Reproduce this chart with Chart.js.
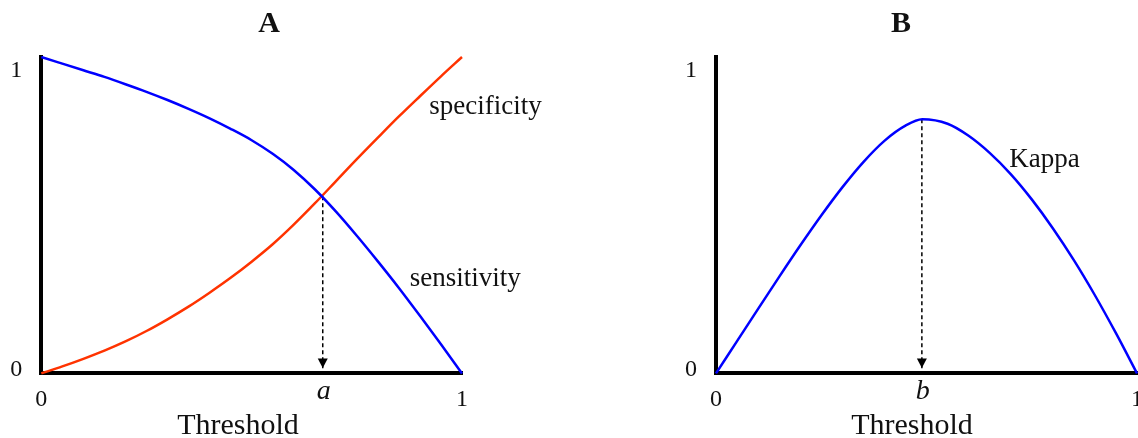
<!DOCTYPE html>
<html>
<head>
<meta charset="utf-8">
<script src="https://cdn.jsdelivr.net/npm/chart.js@4.4.0/dist/chart.umd.min.js"></script>
<style>
  html, body { margin: 0; padding: 0; background: #ffffff; }
  #wrap { position: relative; width: 1138px; height: 438px; overflow: hidden; background: #fff; }
  .box { position: absolute; top: 0; width: 569px; height: 438px; }
  #boxA { left: 0; }
  #boxB { left: 569px; }
</style>
</head>
<body>
<div id="wrap">
  <div class="box" id="boxA"><canvas id="chartA" width="569" height="438"></canvas></div>
  <div class="box" id="boxB"><canvas id="chartB" width="569" height="438"></canvas></div>
</div>
<script>
// ---------------- data ----------------
const thresholdA  = [0, 0.05, 0.1, 0.15, 0.2, 0.25, 0.3, 0.35, 0.4, 0.45, 0.5,
                     0.55, 0.6, 0.65, 0.7, 0.75, 0.8, 0.85, 0.9, 0.95, 1.0];
const sensitivity = [1.0, 0.979, 0.958, 0.937, 0.914, 0.890, 0.864, 0.836, 0.806, 0.773, 0.737,
                     0.694, 0.643, 0.582, 0.512, 0.435, 0.354, 0.270, 0.182, 0.092, 0.0];
const specificity = [0.0, 0.022, 0.046, 0.072, 0.101, 0.134, 0.171, 0.211, 0.255, 0.302, 0.353,
                     0.408, 0.470, 0.537, 0.607, 0.677, 0.745, 0.812, 0.876, 0.939, 1.0];

const thresholdB  = [0, 0.05, 0.1, 0.15, 0.2, 0.25, 0.3, 0.35, 0.4, 0.45, 0.49,
                     0.55, 0.6, 0.65, 0.7, 0.75, 0.8, 0.85, 0.9, 0.95, 1.0];
const kappa       = [0, 0.102, 0.204, 0.305, 0.404, 0.499, 0.588, 0.668, 0.735, 0.783, 0.803,
                     0.789, 0.751, 0.697, 0.630, 0.550, 0.459, 0.358, 0.247, 0.127, 0];

const xTickValues = [0, 1];
const xTickLabels = ['0', '1'];
const yTickValues = [0, 1];
const yTickLabels = ['0', '1'];

const markerA = { label: 'a', x: 0.669, y: 0.56 };   // sensitivity = specificity
const markerB = { label: 'b', x: 0.489, y: 0.803 };  // maximum kappa

// ---------------- helpers ----------------
const SERIF = '"Liberation Serif", "Times New Roman", Times, serif';
const TEXT = '#111111';

const pairs = (xs, ys) => xs.map((v, i) => ({ x: v, y: ys[i] }));

const panelText = {
  id: 'panelText',
  afterDatasetsDraw(chart, args, o) {
    const { ctx, chartArea: ca, scales: { x, y } } = chart;
    ctx.save();
    ctx.fillStyle = TEXT;
    ctx.textAlign = 'center';
    ctx.textBaseline = 'alphabetic';

    // panel title
    ctx.font = 'bold 30px ' + SERIF;
    ctx.fillText(o.title, ca.left + o.titleDx, o.titleBaseline);

    // axis title
    ctx.font = '30px ' + SERIF;
    ctx.fillText(o.xTitle, ca.left + o.xTitleDx, ca.bottom + o.xTitleDy);

    // y tick labels
    ctx.font = '24px ' + SERIF;
    yTickValues.forEach((v, i) => {
      ctx.fillText(yTickLabels[i], ca.left - 25, y.getPixelForValue(v) + o.yLabelDy[i]);
    });

    // arrow head of the dashed drop line
    const m = o.marker;
    const px = x.getPixelForValue(m.x);
    const p0 = y.getPixelForValue(0);
    ctx.fillStyle = '#000';
    ctx.beginPath();
    ctx.moveTo(px, p0 - 5.5);
    ctx.lineTo(px - 5, p0 - 15);
    ctx.lineTo(px + 5, p0 - 15);
    ctx.closePath();
    ctx.fill();

    // marker label on x axis
    ctx.fillStyle = TEXT;
    ctx.font = 'italic 28px ' + SERIF;
    ctx.fillText(m.label, px + 1, ca.bottom + 25.5);

    // curve labels
    ctx.font = '27px ' + SERIF;
    o.labels.forEach(l => {
      ctx.fillText(l.text, x.getPixelForValue(l.x), y.getPixelForValue(l.y));
    });
    ctx.restore();
  }
};

function makeOptions(padLeft, padRight, text) {
  return {
    responsive: false,
    animation: false,
    layout: { padding: { left: padLeft, right: padRight, top: 57, bottom: 11.8 } },
    plugins: {
      legend: { display: false },
      tooltip: { enabled: false },
      title: { display: false },
      panelText: text
    },
    elements: { point: { radius: 0, hoverRadius: 0 } },
    scales: {
      x: {
        type: 'linear',
        min: 0, max: 1,
        afterBuildTicks: s => { s.ticks = xTickValues.map(v => ({ value: v })); },
        afterFit: s => { s.paddingLeft = 0; s.paddingRight = 0; },
        ticks: {
          autoSkip: false, maxRotation: 0, padding: 12,
          color: TEXT,
          font: { family: SERIF, size: 24 },
          callback: (v, i) => xTickLabels[i]
        },
        grid: { display: false, drawTicks: false },
        border: { display: true, width: 4, color: '#000' }
      },
      y: {
        type: 'linear',
        min: 0, max: 1,
        afterBuildTicks: s => { s.ticks = yTickValues.map(v => ({ value: v })); },
        ticks: { display: false },
        grid: { display: false, drawTicks: false },
        border: { display: true, width: 4, color: '#000' }
      }
    }
  };
}

const dropLine = m => ({
  label: 'drop',
  data: [{ x: m.x, y: m.y }, { x: m.x, y: 0 }],
  borderColor: '#000',
  borderWidth: 1.5,
  borderDash: [4, 3],
  pointRadius: 0,
  clip: false,
  order: 3
});

new Chart(document.getElementById('chartA'), {
  type: 'line',
  data: {
    datasets: [
      { label: 'sensitivity', data: pairs(thresholdA, sensitivity), borderColor: '#0000ff', borderWidth: 2.5,
        cubicInterpolationMode: 'monotone', pointRadius: 0, clip: false, order: 1 },
      { label: 'specificity', data: pairs(thresholdA, specificity), borderColor: '#ff3300', borderWidth: 2.5,
        cubicInterpolationMode: 'monotone', pointRadius: 0, clip: false, order: 2 },
      dropLine(markerA)
    ]
  },
  options: makeOptions(41.3, 107, {
    title: 'A', titleDx: 227.7, titleBaseline: 32,
    xTitle: 'Threshold', xTitleDx: 196.7, xTitleDy: 60.5,
    yLabelDy: [3, 20],
    marker: markerA,
    labels: [
      { text: 'specificity', x: 1.056, y: 0.819 },
      { text: 'sensitivity', x: 1.008, y: 0.275 }
    ]
  }),
  plugins: [panelText]
});

new Chart(document.getElementById('chartB'), {
  type: 'line',
  data: {
    datasets: [
      { label: 'Kappa', data: pairs(thresholdB, kappa), borderColor: '#0000ff', borderWidth: 2.5,
        cubicInterpolationMode: 'monotone', pointRadius: 0, clip: false, order: 1 },
      dropLine(markerB)
    ]
  },
  options: makeOptions(147, 1, {
    title: 'B', titleDx: 185, titleBaseline: 32,
    xTitle: 'Threshold', xTitleDx: 196, xTitleDy: 60.5,
    yLabelDy: [3, 20],
    marker: markerB,
    labels: [
      { text: 'Kappa', x: 0.78, y: 0.652 }
    ]
  }),
  plugins: [panelText]
});
</script>
</body>
</html>
